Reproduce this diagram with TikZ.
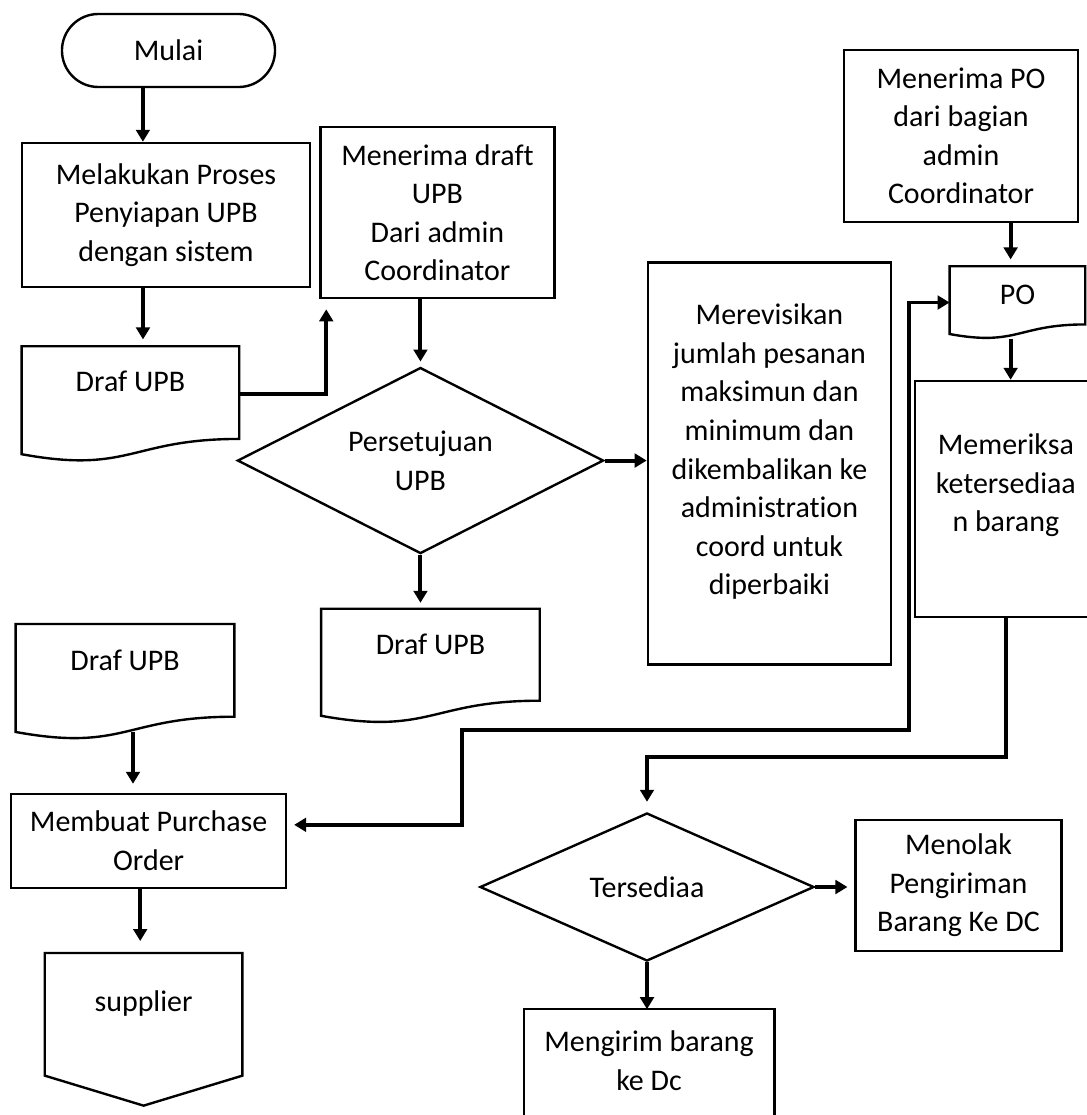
\documentclass[tikz,border=0pt]{standalone}
\usepackage{fontspec}
\setmainfont{Carlito}[Ligatures=NoCommon]
\usetikzlibrary{positioning, shapes.geometric, arrows.meta, calc}

\tikzset{
  base/.style={font=\fontsize{21.3}{27.4}\selectfont, align=center, inner sep=0pt},
  proc/.style={base, rectangle, draw, line width=1.7pt},
  startstop/.style={proc, rounded corners=0.91cm},
  decision/.style={base, diamond, aspect=2, draw, line width=1.7pt},
  doc/.style={base, rectangle, inner ysep=0pt},
  outline/.style={line width=1.7pt},
  flow/.style={line width=2.8pt, -{Triangle[length=0.3cm, width=0.34cm]}},
  flowboth/.style={flow, {Triangle[length=0.3cm, width=0.34cm]}-{Triangle[length=0.3cm, width=0.34cm]}},
}

\begin{document}
\begin{tikzpicture}[x=0.025cm, y=-0.025cm]
  \useasboundingbox (0,0) rectangle (1086,1115);

  % kolom kiri
  \node[startstop, minimum width=5.325cm, minimum height=1.825cm] (mulai) at (168.5,50.5) {Mulai};
  \node[proc, minimum width=7.2cm, minimum height=3.6cm] (siap) at (166,215)
    {Melakukan Proses\\Penyiapan UPB\\dengan sistem};
  \node[doc, minimum width=5.425cm, text height=1.125cm, text depth=1.75cm,
        below=1.45cm of siap, xshift=-0.89cm] (draf1) {Draf UPB};
  \node[proc, minimum width=5.85cm, minimum height=4.275cm,
        right=0.2cm of siap, yshift=0.06cm] (terima)
    {Menerima draft\\UPB\\Dari admin\\Coordinator};
  \node[decision, minimum width=9.15cm, minimum height=4.65cm,
        below=1.675cm of terima, xshift=-0.425cm] (setuju) {Persetujuan\\UPB};
  \node[proc, minimum width=6.075cm, minimum height=10.05cm, text depth=0.71cm,
        right=1.05cm of setuju, yshift=-0.075cm] (rev)
    {Merevisikan\\jumlah pesanan\\maksimun dan\\minimum dan\\dikembalikan ke\\administration\\coord untuk\\diperbaiki};
  \node[doc, minimum width=5.45cm, text height=1.125cm, text depth=1.725cm,
        below=1.35cm of setuju, xshift=0.25cm] (draf2) {Draf UPB};

  % kolom kanan
  \node[proc, minimum width=5.85cm, minimum height=4.3cm] (terimapo) at (961,136)
    {Menerima PO\\dari bagian\\admin\\Coordinator};
  \node[doc, minimum width=3.375cm, text height=0.95cm, text depth=0.85cm,
        below=1.075cm of terimapo, xshift=1.41cm] (po) {PO};
  \node[proc, minimum width=4.55cm, minimum height=5.9cm, text depth=0.81cm,
        below=1.025cm of po, xshift=-0.29cm] (cek)
    {Memeriksa\\ketersediaa\\n barang};
  \node[decision, minimum width=8.35cm, minimum height=3.7cm] (sedia) at (647,887) {Tersediaa};
  \node[proc, minimum width=5.15cm, minimum height=3.275cm,
        right=0.975cm of sedia, yshift=0.04cm] (tolak)
    {Menolak\\Pengiriman\\Barang Ke DC};
  \node[base, minimum width=6.25cm, minimum height=2.55cm,
        below=1.175cm of sedia, xshift=0.05cm] (kirim) {Mengirim barang\\ke Dc};

  % bawah kiri
  \node[doc, anchor=north, minimum width=5.45cm, text height=1.15cm, text depth=1.725cm] (draf3) at (125,624) {Draf UPB};
  \node[proc, minimum width=6.875cm, minimum height=2.35cm,
        below=1.325cm of draf3, xshift=0.59cm] (buat) {Membuat Purchase\\Order};
  \node[doc, minimum width=4.925cm, text height=1.45cm, text depth=2.35cm,
        below=1.6cm of buat, xshift=-0.125cm] (supp) {supplier};

  % bentuk dokumen
  \foreach \d in {draf1, draf2, draf3, po} {
    \draw[outline] (\d.north west) -- (\d.north east)
      -- ($(\d.north east)!0.802!(\d.south east)$)
      .. controls ($(\d.north)!0.802!(\d.south)$) and ($(\d.north)!1.107!(\d.south)$)
      .. ($(\d.north west)!0.934!(\d.south west)$) -- cycle;
  }
  \draw[outline] (supp.north west) -- (supp.north east) -- ([yshift=0.75cm]supp.south east)
    -- (supp.south) -- ([yshift=0.75cm]supp.south west) -- cycle;
  \draw[outline] (kirim.north west) rectangle ([yshift=-1cm]kirim.south east);

  \coordinate (belok1) at (462,730);
  \coordinate (belok2) at (909,730);

  \draw[flow] ([xshift=-0.64cm]mulai.south) -- ([xshift=-0.64cm]mulai.south |- siap.north);
  \draw[flow, shorten >=0.17cm] ([xshift=-0.575cm]siap.south) -- ([xshift=-0.575cm]siap.south |- draf1.north);
  \draw[flow, shorten >=0.25cm] ([yshift=0.26cm]draf1.east) -| ([xshift=0.175cm]terima.south west);
  \draw[flow, shorten >=0.12cm] (setuju.north |- terima.south) -- (setuju.north);
  \draw[flow] (setuju.east) -- (setuju.east -| rev.west);
  \draw[flow, shorten >=0.15cm] (setuju.south) -- (setuju.south |- draf2.north);
  \draw[flow, shorten >=0.17cm] ([xshift=-0.17cm]po.north |- terimapo.south) -- ([xshift=-0.17cm]po.north);
  \draw[flow] ([xshift=-0.17cm]po.south) -- ([xshift=-0.17cm]po.south |- cek.north);
  \draw[flow, shorten >=0.25cm] (cek.south) |- ([yshift=1.375cm]sedia.north) -- (sedia.north);
  \draw[flow, shorten >=0.17cm] (sedia.east) -- (sedia.east -| tolak.west);
  \draw[flow] (sedia.south) -- (sedia.south |- kirim.north);
  \draw[flow, shorten >=0.22cm] ([xshift=0.2cm, yshift=0.2cm]draf3.south) -- ([xshift=0.2cm]draf3.south |- buat.north);
  \draw[flow, shorten >=0.3cm] ([xshift=-0.21cm]buat.south) -- ([xshift=-0.21cm]buat.south |- supp.north);
  \draw[flowboth, shorten <=0.17cm] ([yshift=0.4cm]buat.east) -| (belok1) -- (belok2) |- (po.west);

\end{tikzpicture}
\end{document}
